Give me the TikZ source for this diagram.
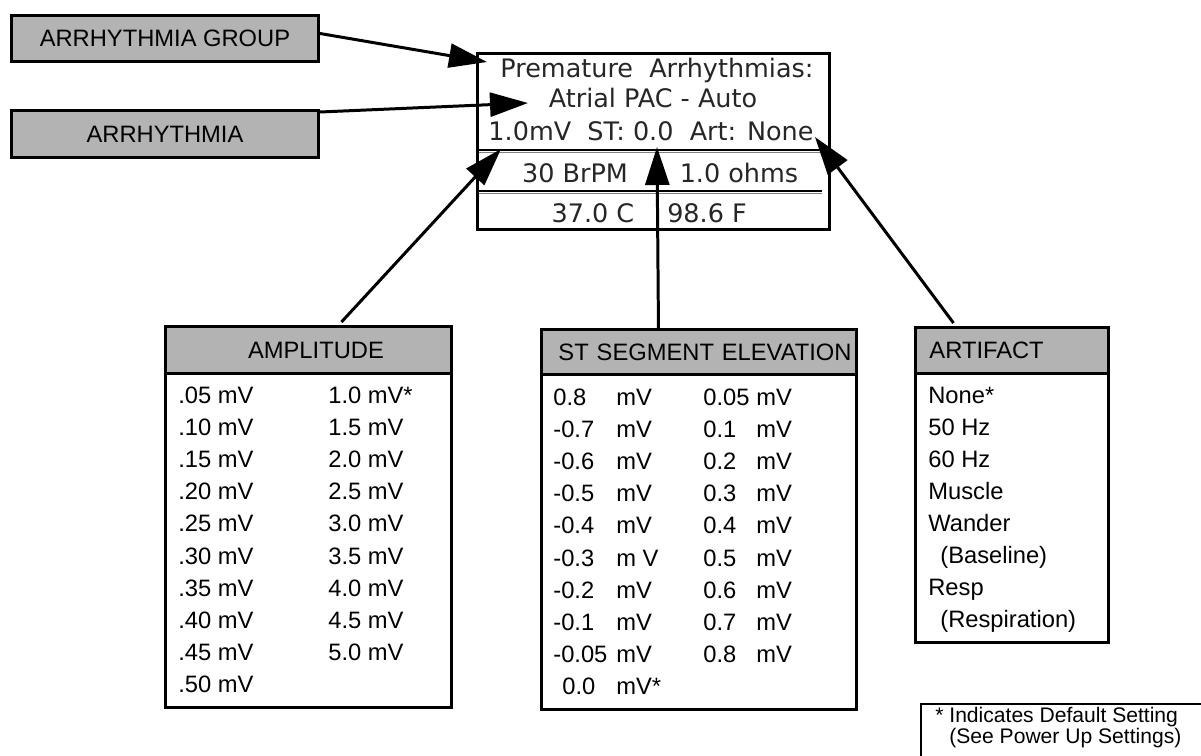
\documentclass[tikz,border=0pt]{standalone}
\usepackage{fontspec}
\setmainfont{Liberation Sans}
\newfontfamily\lcdfont{DejaVu Sans}
\usetikzlibrary{arrows.meta,positioning}
\definecolor{hdrgray}{RGB}{179,179,179}

\begin{document}
\begin{tikzpicture}[
  x=0.02cm, y=-0.02cm,
  font=\fontsize{13.5}{16}\selectfont,
  tag/.style={draw, line width=1.7pt, fill=hdrgray, inner sep=0pt, anchor=north west},
  listbox/.style={draw, line width=1.7pt, inner sep=0pt, anchor=north west},
  entry/.style={anchor=base west, inner sep=0pt},
  lcd/.style={anchor=base, inner sep=0pt, text=black!85, font=\lcdfont\fontsize{14.5}{16}\selectfont},
  pointer/.style={line width=1.7pt, -{Triangle[length=0.76cm, width=0.48cm]}}
]
\useasboundingbox (0,0) rectangle (1201,755);
\clip (0,0) rectangle (1201,755);

% Callouts on the left
\node[tag, minimum width=6.14cm, minimum height=0.92cm] (grp) at (10,14) {ARRHYTHMIA GROUP};
\node[tag, minimum width=6.14cm, minimum height=0.94cm] (arr) at (10,109) {ARRHYTHMIA};

% Monitor screen
\node[listbox, minimum width=7.04cm, minimum height=3.52cm] (scr) at (476,52) {};
\node[lcd] (scrTop) at (657,77) {Premature\ \ Arrhythmias:};
\node[lcd] (scrSel) at (653,107) {Atrial PAC - Auto};
\node[lcd] (scrSet) at (651,140) {1.0mV\ \ ST: 0.0\ \ Art: None};
\draw[line width=1pt] (479,150) -- (822,150);
\draw[line width=1pt, gray] (479,152.5) -- (822,152.5);
\node[lcd] (scrRate) at (575,182) {30 BrPM};
\node[lcd] (scrOhm) at (739,182) {1.0 ohms};
\draw[line width=1pt] (479,191) -- (822,191);
\draw[line width=1pt, gray] (479,193.5) -- (822,193.5);
\node[lcd] (scrTc) at (593,222) {37.0 C};
\node[lcd] (scrTf) at (707,222) {98.6 F};

% Setting lists
\node[tag, minimum width=5.72cm, minimum height=0.94cm] (amphead) at (164,325) {\hspace*{0.3cm}AMPLITUDE};
\node[listbox, minimum width=5.72cm, minimum height=6.68cm] (ampbody) at (164,372) {};
\foreach \v [count=\i] in {.05,.10,.15,.20,.25,.30,.35,.40,.45,.50}
  \node[entry] (ampL\i) at (178,{403+32.2*(\i-1)}) {\v\ mV};
\foreach \v [count=\i] in {1.0 mV*,1.5 mV,2.0 mV,2.5 mV,3.0 mV,3.5 mV,4.0 mV,4.5 mV,5.0 mV}
  \node[entry] (ampR\i) at (328,{403+32.2*(\i-1)}) {\v};

\node[tag, minimum width=6.30cm, minimum height=0.90cm, text width=5.62cm, align=left, inner xsep=0.34cm] (sthead) at (540,328) {\mbox{ST SEGMENT ELEVATION}};
\node[listbox, minimum width=6.30cm, minimum height=6.70cm] (stbody) at (540,373) {};
\foreach \n/\u [count=\i] in {0.8/mV,-0.7/mV,-0.6/mV,-0.5/mV,-0.4/mV,-0.3/m V,-0.2/mV,-0.1/mV,-0.05/mV} {
  \node[entry] (stN\i) at (553,{405+32.2*(\i-1)}) {\n};
  \node[entry] (stU\i) at (616,{405+32.2*(\i-1)}) {\u};
}
\node[entry] (stN10) at (562,{405+32.2*9}) {0.0};
\node[entry] (stU10) at (616,{405+32.2*9}) {mV*};
\foreach \n [count=\i] in {0.05,0.1,0.2,0.3,0.4,0.5,0.6,0.7,0.8} {
  \node[entry] (stM\i) at (703,{405+32.2*(\i-1)}) {\n};
  \node[entry] (stV\i) at (756,{405+32.2*(\i-1)}) {mV};
}

\node[tag, minimum width=3.86cm, minimum height=0.92cm, text width=3.30cm, align=left, inner xsep=0.28cm] (arthead) at (914,326) {ARTIFACT};
\node[listbox, minimum width=3.86cm, minimum height=5.38cm] (artbody) at (914,372) {};
\foreach \v/\dx [count=\i] in {None*/0,50 Hz/0,60 Hz/0,Muscle/0,Wander/0,(Baseline)/12,Resp/0,(Respiration)/12}
  \node[entry] (art\i) at ({928+\dx},{403+32*(\i-1)}) {\v};

% Footnote
\node[draw, line width=1.1pt, anchor=north west, minimum width=8cm, minimum height=2cm] (dflt) at (920,703) {};
\node[entry, font=\fontsize{12}{14}\selectfont] (dfltA) at (935,722) {* Indicates Default Setting};
\node[entry, font=\fontsize{12}{14}\selectfont] (dfltB) at (949,743) {(See Power Up Settings)};

% Pointers into the screen
\coordinate (grpTip) at (487,62);
\coordinate (arrTip) at (528,103);
\coordinate (ampTip) at (501,149);
\coordinate (stTip) at (657,147);
\coordinate (artTip) at (815,137);
\draw[pointer] ([yshift=0.1cm]grp.east) -- (grpTip);
\draw[pointer] ([yshift=-0.06cm]arr.north east) -- (arrTip);
\draw[pointer] ([xshift=0.66cm, yshift=0.06cm]amphead.north) -- (ampTip);
\draw[pointer] ([xshift=-0.81cm]sthead.north) -- (stTip);
\draw[pointer] ([xshift=-1.17cm, yshift=0.06cm]arthead.north) -- (artTip);
\end{tikzpicture}
\end{document}
